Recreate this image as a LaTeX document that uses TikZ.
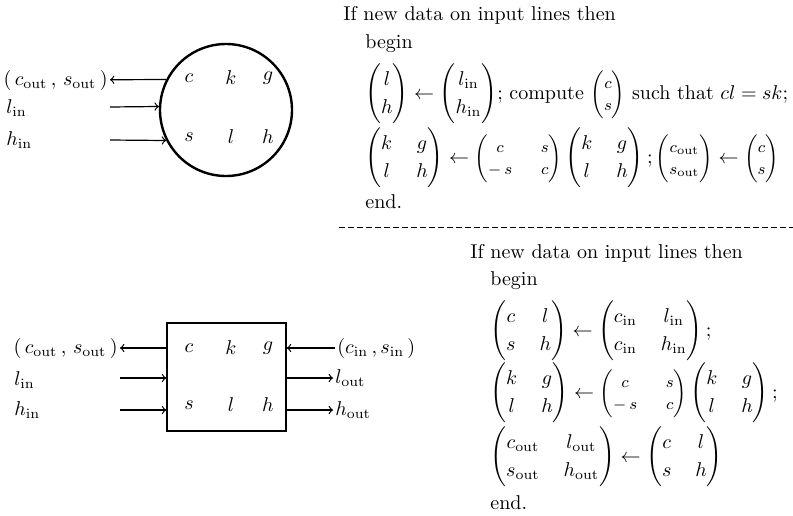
\documentclass[tikz,border=0pt]{standalone}
\usepackage{amsmath,amssymb}
\usepackage{tikz}
\usetikzlibrary{calc}
\renewcommand{\arraystretch}{1.15}
\setlength{\arraycolsep}{6pt}
\newcommand{\spmat}[1]{\mbox{\footnotesize$\begin{pmatrix}#1\end{pmatrix}$}}

\tikzset{
  proc/.style={draw, line width=1.2pt},
  wire/.style={->, line width=0.6pt},
  txt/.style={anchor=west, inner sep=0pt},
}

\begin{document}
\begin{tikzpicture}[x=0.5pt,y=-0.5pt]
  \useasboundingbox (0,0) rectangle (793,515);

  % Round processor
  \node[proc, circle, minimum size=66pt, inner sep=0pt] (pc) at (226,110) {};
  \foreach \t/\x/\y in {c/189/78, k/231/78, g/268/78, s/189/137, l/231/137, h/268/137}
    \node (pc-\t) at (\x,\y) {$\t$};
  \node[anchor=east, inner sep=1pt] (pc-cout) at (110,80) {$(\,c_{\mathrm{out}}\,,\,s_{\mathrm{out}}\,)$};
  \node[txt] (pc-lin) at (6,108) {$l_{\mathrm{in}}$};
  \node[txt] (pc-hin) at (6,140) {$h_{\mathrm{in}}$};
  \coordinate (pc-l0) at (110,107);
  \coordinate (pc-h0) at (110,140);
  \draw[wire] (pc.153) -- (pc-cout);
  \draw[wire] (pc-l0) -- (pc.177);
  \draw[wire] (pc-h0) -- (pc.207);

  % Program for it
  \node[txt] (p1-if) at (343,15) {If new data on input lines then};
  \node[txt] (p1-begin) at (365,44) {begin};
  \node[txt] (p1-a) at (365,94) {$\begin{pmatrix} l\\ h\end{pmatrix} \leftarrow \begin{pmatrix} l_{\mathrm{in}}\\ h_{\mathrm{in}}\end{pmatrix}$; compute $\spmat{c\\ s}$ such that $cl = sk$;};
  \node[txt] (p1-b) at (365,158) {$\begin{pmatrix} k & g\\ l & h\end{pmatrix} \leftarrow \spmat{c & \;s\\ -\,s & \;c}\begin{pmatrix} k & g\\ l & h\end{pmatrix}; \spmat{c_{\mathrm{out}}\\ s_{\mathrm{out}}} \leftarrow \spmat{c\\ s}$};
  \node[txt] (p1-end) at (365,202) {end.};

  \draw[dash pattern=on 3pt off 1.5pt] (339,227) -- (793,227);

  % Square processor
  \node[proc, line width=0.8pt, minimum width=59.5pt, minimum height=54pt] (pb) at (226.5,377) {};
  \foreach \t/\x/\y in {c/189/348, k/231/348, g/268/348, s/189/405, l/231/405, h/268/405}
    \node (pb-\t) at (\x,\y) {$\t$};
  \node[anchor=east, inner sep=1pt] (pb-cout) at (120,348) {$(\,c_{\mathrm{out}}\,,\,s_{\mathrm{out}}\,)$};
  \node[anchor=west, inner sep=1pt] (pb-cin) at (335,348) {$(c_{\mathrm{in}}\,, s_{\mathrm{in}}\,)$};
  \node[anchor=west, inner sep=1pt] (pb-lout) at (333,378) {$l_{\mathrm{out}}$};
  \node[anchor=west, inner sep=1pt] (pb-hout) at (333,410) {$h_{\mathrm{out}}$};
  \node[txt] (pb-lin) at (14,380) {$l_{\mathrm{in}}$};
  \node[txt] (pb-hin) at (14,410) {$h_{\mathrm{in}}$};
  \coordinate (pb-l0) at (120,378);
  \coordinate (pb-h0) at (120,410);
  \draw[wire] (pb.west |- pb-cout) -- (pb-cout);
  \draw[wire] (pb-cin) -- (pb.east |- pb-cin);
  \draw[wire] (pb.east |- pb-lout) -- (pb-lout);
  \draw[wire] (pb.east |- pb-hout) -- (pb-hout);
  \draw[wire] (pb-l0) -- (pb.west |- pb-l0);
  \draw[wire] (pb-h0) -- (pb.west |- pb-h0);

  % Program for it
  \node[txt] (p2-if) at (470,253) {If new data on input lines then};
  \node[txt] (p2-begin) at (490,281) {begin};
  \node[txt] (p2-a) at (490,331) {$\begin{pmatrix} c & l\\ s & h\end{pmatrix} \leftarrow \begin{pmatrix} c_{\mathrm{in}} & l_{\mathrm{in}}\\ c_{\mathrm{in}} & h_{\mathrm{in}}\end{pmatrix};$};
  \node[txt] (p2-b) at (490,393) {$\begin{pmatrix} k & g\\ l & h\end{pmatrix} \leftarrow \spmat{c & \;s\\ -\,s & \;c}\begin{pmatrix} k & g\\ l & h\end{pmatrix};$};
  \node[txt] (p2-c) at (490,457) {$\begin{pmatrix} c_{\mathrm{out}} & l_{\mathrm{out}}\\ s_{\mathrm{out}} & h_{\mathrm{out}}\end{pmatrix} \leftarrow \begin{pmatrix} c & l\\ s & h\end{pmatrix}$};
  \node[txt] (p2-end) at (490,503) {end.};

\end{tikzpicture}
\end{document}
